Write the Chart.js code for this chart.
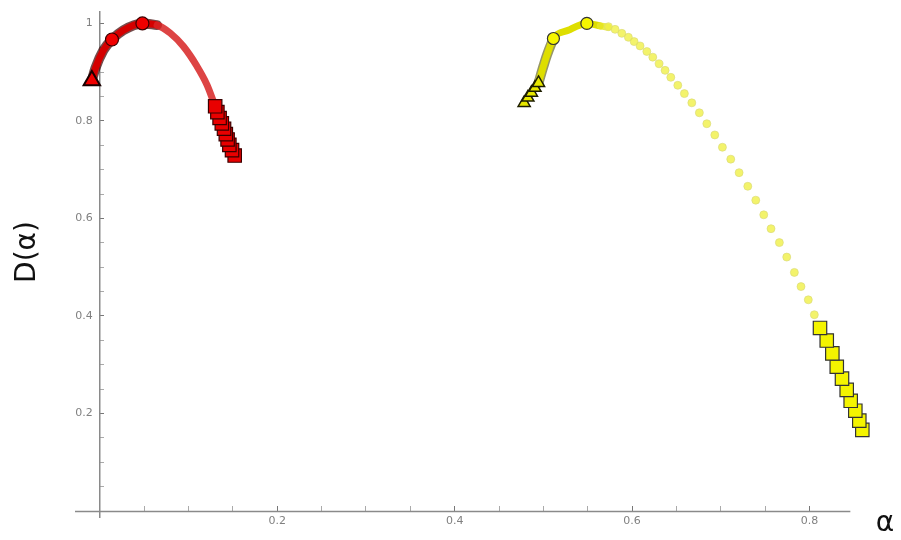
<!DOCTYPE html>
<html>
<head>
<meta charset="utf-8">
<script src="https://cdn.jsdelivr.net/npm/chart.js@4.4.1/dist/chart.umd.min.js"></script>
<style>
  html, body { margin: 0; padding: 0; background: #fff; }
  #chart { display: block; }
</style>
</head>
<body>
<canvas id="chart" width="901" height="540"></canvas>
<script>
// Red branch
const redCurveX = [-0.009, -0.005, 0.004, 0.0137, 0.0265, 0.048, 0.0645, 0.0794, 0.0941, 0.1095, 0.1208, 0.130];
const redCurveY = [0.883, 0.908, 0.945, 0.967, 0.986, 1.0, 0.9965, 0.980, 0.953, 0.912, 0.874, 0.830];
const redTriX = [-0.009];
const redTriY = [0.883];
const redCircX = [0.0137, 0.048];
const redCircY = [0.967, 1.0];
const redSqX = [0.152, 0.149, 0.146, 0.144, 0.142, 0.140, 0.1375, 0.135, 0.1325, 0.130];
const redSqY = [0.729, 0.740, 0.751, 0.762, 0.773, 0.784, 0.795, 0.806, 0.818, 0.830];

// Yellow branch
const yelCurveX = [0.4945, 0.500, 0.504, 0.5113, 0.528, 0.549, 0.564, 0.573];
const yelCurveY = [0.878, 0.912, 0.935, 0.969, 0.986, 1.0, 0.995, 0.992];
const yelTriX = [0.4783, 0.4825, 0.4865, 0.4905, 0.4945];
const yelTriY = [0.837, 0.848, 0.858, 0.868, 0.878];
const yelCircX = [0.5113, 0.549];
const yelCircY = [0.969, 1.0];
const yelDotX = [0.5733, 0.5808, 0.5884, 0.5958, 0.6023, 0.6090, 0.6166, 0.6233, 0.6304, 0.6372,
  0.6436, 0.6515, 0.6589, 0.6673, 0.6758, 0.6842, 0.6932, 0.7018, 0.7112, 0.7206,
  0.7304, 0.7394, 0.7484, 0.7566, 0.7660, 0.7743, 0.7829, 0.7904, 0.7986, 0.8054];
const yelDotY = [0.9933, 0.9878, 0.9796, 0.9715, 0.9627, 0.9538, 0.9424, 0.9308, 0.9171, 0.9037,
  0.8894, 0.8731, 0.8560, 0.8371, 0.8167, 0.7943, 0.7713, 0.7460, 0.7216, 0.6939,
  0.6660, 0.6375, 0.6075, 0.5790, 0.5505, 0.5208, 0.4894, 0.4603, 0.4332, 0.4026];
const yelSqX = [0.8595, 0.8561, 0.8516, 0.8464, 0.8419, 0.8366, 0.8307, 0.8257, 0.8194, 0.8118];
const yelSqY = [0.1664, 0.1853, 0.2057, 0.2261, 0.2485, 0.2715, 0.2959, 0.3232, 0.3497, 0.3754];

// Axes
const xMin = -0.028, xMax = 0.8738, xAxisEnd = 0.846;
const yMin = -0.0122, yMax = 1.0244;
const tickStep = 0.05;
const xLabelTicks = [0.2, 0.4, 0.6, 0.8];
const yLabelTicks = [0.2, 0.4, 0.6, 0.8, 1];

function pts(xs, ys) {
  return xs.map((x, i) => ({ x: x, y: ys[i] }));
}
function onStep(v) {
  return Math.abs(v / tickStep - Math.round(v / tickStep)) < 1e-6;
}
function isLabel(list, v) {
  return list.some((t) => Math.abs(t - v) < 1e-6);
}
function fmt(v) {
  return Math.abs(v - 1) < 1e-6 ? "1" : v.toFixed(1);
}

const axisDecor = {
  id: "axisDecor",
  beforeDatasetsDraw(chart) {
    const { ctx, scales } = chart;
    const yy = Math.round(scales.y.getPixelForValue(0)) + 0.5;
    ctx.save();
    ctx.strokeStyle = "#8a8a8a";
    ctx.lineWidth = 1.5;
    ctx.beginPath();
    ctx.moveTo(scales.x.getPixelForValue(xMin), yy);
    ctx.lineTo(scales.x.getPixelForValue(xAxisEnd), yy);
    ctx.stroke();
    ctx.restore();
  },
  afterDraw(chart) {
    const ctx = chart.ctx;
    ctx.save();
    ctx.fillStyle = "#111";
    ctx.font = '28px "DejaVu Sans"';
    ctx.textAlign = "center";
    ctx.textBaseline = "middle";
    ctx.translate(28, 252);
    ctx.rotate(-Math.PI / 2);
    ctx.fillText("D(\u03B1)", 0, 0);
    ctx.restore();
    ctx.save();
    ctx.fillStyle = "#111";
    ctx.font = '28px "DejaVu Sans"';
    ctx.textAlign = "center";
    ctx.textBaseline = "middle";
    ctx.fillText("\u03B1", 885, 524);
    ctx.restore();
  },
};

const tickColor = (c) => (c.tick && isLabel(c.scale.axis === "x" ? xLabelTicks : yLabelTicks, c.tick.value) ? "#777" : "#aaa");

var ctx = document.getElementById("chart").getContext("2d");
var chart = new Chart(ctx, {
  type: "scatter",
  data: {
    datasets: [
      // red markers
      { data: pts(redCircX, redCircY), pointStyle: "circle", pointRadius: 6.5, backgroundColor: "#f00000", borderColor: "#3a0000", borderWidth: 1.2 },
      { data: pts(redTriX, redTriY), pointStyle: "triangle", pointRadius: 9.5, backgroundColor: "#f00000", borderColor: "#1a0000", borderWidth: 2 },
      { data: pts(redSqX, redSqY), pointStyle: "rect", pointRadius: 9.5, backgroundColor: "#e80000", borderColor: "#3a0000", borderWidth: 1.2 },
      // red curve
      {
        data: pts(redCurveX, redCurveY), showLine: true, pointRadius: 0, borderWidth: 7,
        borderColor: "#d00000", borderCapStyle: "round", cubicInterpolationMode: "monotone",
        segment: { borderColor: (c) => (c.p0.parsed.x >= 0.06 ? "rgba(215,35,35,0.85)" : "#d40000") },
      },
      {
        data: pts(redCurveX.slice(0, 7), redCurveY.slice(0, 7)), showLine: true, pointRadius: 0, borderWidth: 10,
        borderColor: "rgba(60,0,0,0.7)", borderCapStyle: "round", cubicInterpolationMode: "monotone",
      },
      // yellow markers
      { data: pts(yelCircX, yelCircY), pointStyle: "circle", pointRadius: 6, backgroundColor: "#f6f600", borderColor: "#333", borderWidth: 1.2 },
      { data: pts(yelTriX, yelTriY), pointStyle: "triangle", pointRadius: 7, backgroundColor: "#e8e800", borderColor: "#1e1e00", borderWidth: 1.5 },
      { data: pts(yelSqX, yelSqY), pointStyle: "rect", pointRadius: 9.5, backgroundColor: "#f4f400", borderColor: "#333", borderWidth: 1.2 },
      { data: pts(yelDotX, yelDotY), pointStyle: "circle", pointRadius: 4, backgroundColor: "rgba(240,240,70,0.8)", borderColor: "rgba(215,215,120,0.6)", borderWidth: 1 },
      // yellow curve
      {
        data: pts(yelCurveX, yelCurveY), showLine: true, pointRadius: 0, borderWidth: 7,
        borderColor: "#e2e200", borderCapStyle: "round", cubicInterpolationMode: "monotone",
        segment: { borderColor: (c) => (c.p0.parsed.x >= 0.55 ? "rgba(232,232,40,0.85)" : "#dede00") },
      },
      {
        data: pts(yelCurveX.slice(0, 4), yelCurveY.slice(0, 4)), showLine: true, pointRadius: 0, borderWidth: 10,
        borderColor: "rgba(80,80,0,0.6)", borderCapStyle: "round", cubicInterpolationMode: "monotone",
      },
    ],
  },
  options: {
    responsive: false,
    devicePixelRatio: 1,
    animation: false,
    layout: { padding: { left: 75, right: 26, top: 8, bottom: 23 } },
    plugins: { legend: { display: false }, tooltip: { enabled: false } },
    scales: {
      x: {
        type: "linear",
        position: { y: 0 },
        min: xMin,
        max: xMax,
        border: { display: false },
        grid: { display: true, drawOnChartArea: false, drawTicks: true, tickLength: -5, tickColor: tickColor, tickWidth: 1, z: -1 },
        afterBuildTicks: (scale) => {
          scale.ticks = scale.ticks.filter((t) => t.value > 0.001 && t.value <= xAxisEnd && onStep(t.value));
        },
        ticks: {
          stepSize: tickStep,
          includeBounds: false,
          autoSkip: false,
          maxRotation: 0,
          padding: 8,
          color: "#808080",
          font: { family: "DejaVu Sans", size: 11 },
          callback: (v) => (isLabel(xLabelTicks, v) ? fmt(v) : ""),
        },
      },
      y: {
        type: "linear",
        position: { x: 0 },
        min: yMin,
        max: yMax,
        border: { display: true, color: "#8a8a8a", width: 1.5 },
        grid: { display: true, drawOnChartArea: false, drawTicks: true, tickLength: -5, tickColor: tickColor, tickWidth: 1, z: -1 },
        afterBuildTicks: (scale) => {
          scale.ticks = scale.ticks.filter((t) => t.value > 0.001 && onStep(t.value));
        },
        ticks: {
          stepSize: tickStep,
          includeBounds: false,
          autoSkip: false,
          color: "#808080",
          font: { family: "DejaVu Sans", size: 11 },
          callback: (v) => (isLabel(yLabelTicks, v) ? fmt(v) + "  " : ""),
        },
      },
    },
  },
  plugins: [axisDecor],
});
</script>
</body>
</html>
